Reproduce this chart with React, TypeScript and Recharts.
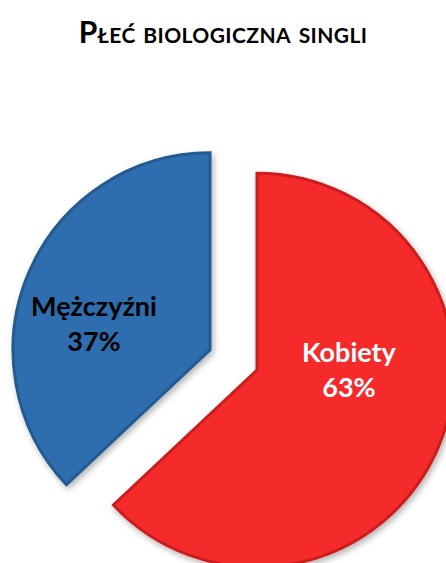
import { Cell, Pie, PieChart } from 'recharts';

// Płeć biologiczna singli – udział procentowy
const categories = ['Kobiety', 'Mężczyźni'];
const shares = [63, 37];
const colors = ['#F52A2A', '#2E6EAE'];
const edgeColors = ['#CC1F1F', '#245A91'];
const labelColors = ['#FFFFFF', '#000000'];

const data = categories.map((name, i) => ({ name, value: shares[i] }));

const WIDTH = 446;
const HEIGHT = 563;
const RADIUS = 197;
const BASE_CX = 233.5;
const BASE_CY = 360;
const EXPLODE = 25.6;
const START = 90;
const END = -270;

// label placement relative to each slice's own centre (fraction of radius)
const labelOffset: Record<string, { dx: number; dy: number }> = {
  Kobiety: { dx: 0.467, dy: -0.04 },
  'Mężczyźni': { dx: -0.589, dy: -0.17 },
};

// centre of an exploded slice: pushed out along its mid angle
const total = shares.reduce((a, b) => a + b, 0);
const sliceCenter = (index: number) => {
  const before = shares.slice(0, index).reduce((a, b) => a + b, 0);
  const mid = START + ((END - START) * (before + shares[index] / 2)) / total;
  const rad = (mid * Math.PI) / 180;
  return { cx: BASE_CX + EXPLODE * Math.cos(rad), cy: BASE_CY - EXPLODE * Math.sin(rad) };
};

const makeLabel = (visible: string) => (props: any) => {
  const { cx, cy, outerRadius, name, percent } = props;
  if (name !== visible) return null;
  const idx = categories.indexOf(name);
  const off = labelOffset[name];
  const x = cx + off.dx * outerRadius;
  const y = cy + off.dy * outerRadius;
  return (
    <text
      x={x}
      y={y}
      textAnchor="middle"
      fill={labelColors[idx]}
      fontFamily="Lato, 'Open Sans', sans-serif"
      fontWeight={700}
      fontSize={27}
    >
      <tspan x={x} dy={0}>{name}</tspan>
      <tspan x={x} dy={35}>{`${Math.round(percent * 100)}%`}</tspan>
    </text>
  );
};

export default function App() {
  return (
    <div style={{ position: 'absolute', left: 0, top: 0, width: WIDTH, height: HEIGHT, background: '#fff', overflow: 'hidden' }}>
      <div
        style={{
          position: 'absolute',
          top: 13,
          left: 0,
          width: WIDTH,
          textAlign: 'center',
          fontFamily: "Lato, 'Open Sans', sans-serif",
          fontWeight: 700,
          fontSize: 30,
          letterSpacing: 0.4,
          fontVariant: 'small-caps',
          color: '#000',
          whiteSpace: 'nowrap',
        }}
      >
        Płeć biologiczna singli
      </div>
      <PieChart width={WIDTH} height={HEIGHT} margin={{ top: 0, right: 0, bottom: 0, left: 0 }}>
        <defs>
          <filter id="sliceShadow" x="-20%" y="-20%" width="140%" height="140%">
            <feDropShadow dx="2" dy="3" stdDeviation="3" floodColor="#000" floodOpacity="0.3" />
          </filter>
        </defs>
        {categories.map((cat, p) => {
          const { cx, cy } = sliceCenter(p);
          return (
            <Pie
              key={cat}
              data={data}
              dataKey="value"
              nameKey="name"
              cx={cx}
              cy={cy}
              outerRadius={RADIUS}
              startAngle={START}
              endAngle={END}
              label={makeLabel(cat)}
              labelLine={false}
              isAnimationActive={false}
            >
              {data.map((d, i) => (
                <Cell
                  key={d.name}
                  fill={i === p ? colors[i] : 'transparent'}
                  stroke={i === p ? edgeColors[i] : 'none'}
                  strokeWidth={3}
                  filter={i === p ? 'url(#sliceShadow)' : undefined}
                />
              ))}
            </Pie>
          );
        })}
      </PieChart>
    </div>
  );
}
